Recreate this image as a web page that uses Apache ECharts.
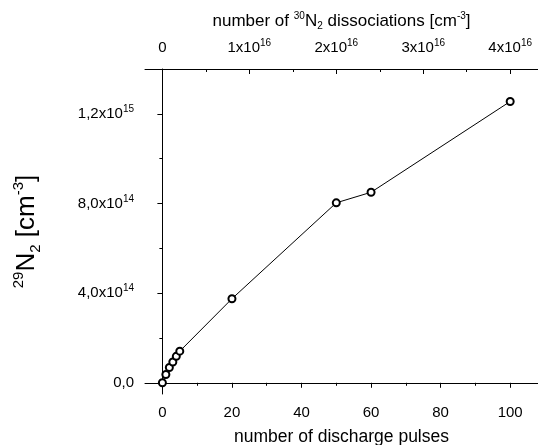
<!DOCTYPE html>
<html>
<head>
<meta charset="utf-8">
<script src="https://cdn.jsdelivr.net/npm/echarts@6/dist/echarts.min.js"></script>
<style>
  html, body { margin: 0; padding: 0; background: #fff; }
  #box { width: 538px; height: 445px; }
</style>
</head>
<body>
<div id="box"></div>
<script>
var myChart = echarts.init(document.getElementById('box'));

// number of discharge pulses
var pulses = [0, 1, 2, 3, 4, 5, 20, 50, 60, 100];
// 29N2 density [cm-3]
var n29 = [0, 3.7e13, 6.8e13, 9.3e13, 1.18e14, 1.41e14, 3.75e14, 8.03e14, 8.5e14, 1.255e15];

// tick values / labels
var xMajor = [0, 20, 40, 60, 80, 100];
var xMinor = [10, 30, 50, 70, 90];
var topMajor = [0, 1, 2, 3, 4];          // x10^16 dissociations
var topMinor = [0.5, 1.5, 2.5, 3.5];
var yMajor = [0, 4e14, 8e14, 1.2e15];
var yLabels = ['0,0', '4,0x10{sup|14}', '8,0x10{sup|14}', '1,2x10{sup|15}'];
var yMinor = [2e14, 6e14, 1e15];

var dissPerPulse = 0.04; // top axis (x10^16) per pulse
var xMin = -5, xMax = 108;
var yMin = -5e13, yMax = 1.4e15;

var font = 'Liberation Sans, Arial, sans-serif';
var supRich = {
    sup: { fontSize: 10, verticalAlign: 'top', lineHeight: 10, fontFamily: font, color: '#000' }
};
var gridBox = { left: 145, right: 0, top: 69, bottom: 51, outerBoundsMode: 'none', containLabel: false };

option = {
    animation: false,
    grid: [
        Object.assign({}, gridBox),
        Object.assign({}, gridBox)
    ],
    xAxis: [{
        type: 'value',
        gridIndex: 0,
        position: 'bottom',
        min: xMin,
        max: xMax,
        name: 'number of discharge pulses',
        nameLocation: 'middle',
        nameGap: 34,
        nameTextStyle: { fontSize: 17.5, fontFamily: font, color: '#000' },
        axisLine: { show: true, lineStyle: { color: '#000', width: 1 } },
        axisTick: { show: true, inside: false, length: 5, customValues: xMajor, lineStyle: { color: '#000' } },
        axisLabel: { customValues: xMajor, margin: 11, fontSize: 15, fontFamily: font, color: '#000' },
        splitLine: { show: false }
    }, {
        type: 'value',
        gridIndex: 0,
        position: 'top',
        min: xMin * dissPerPulse,
        max: xMax * dissPerPulse,
        name: 'number of {sup|30}N{sub|2} dissociations [cm{sup|-3}]',
        nameLocation: 'middle',
        nameGap: 38,
        nameTextStyle: {
            fontSize: 17, fontFamily: font, color: '#000', lineHeight: 20,
            rich: {
                sup: { fontSize: 10, verticalAlign: 'top', lineHeight: 10, fontFamily: font, color: '#000' },
                sub: { fontSize: 10, verticalAlign: 'bottom', lineHeight: 10, fontFamily: font, color: '#000' }
            }
        },
        axisLine: { show: true, lineStyle: { color: '#000', width: 1 } },
        axisTick: { show: true, inside: true, length: 5, customValues: topMajor, lineStyle: { color: '#000' } },
        axisLabel: {
            customValues: topMajor,
            margin: 12,
            fontSize: 15,
            fontFamily: font,
            color: '#000',
            lineHeight: 19,
            rich: supRich,
            formatter: function (v) {
                if (v === 0) return '0';
                return v + 'x10{sup|16}';
            }
        },
        splitLine: { show: false }
    }, {
        type: 'value',
        gridIndex: 1,
        position: 'bottom',
        min: xMin,
        max: xMax,
        axisLine: { show: false },
        axisTick: { show: true, inside: false, length: 3, customValues: xMinor, lineStyle: { color: '#000' } },
        axisLabel: { show: false },
        splitLine: { show: false }
    }, {
        type: 'value',
        gridIndex: 1,
        position: 'top',
        min: xMin * dissPerPulse,
        max: xMax * dissPerPulse,
        axisLine: { show: false },
        axisTick: { show: true, inside: true, length: 3, customValues: topMinor, lineStyle: { color: '#000' } },
        axisLabel: { show: false },
        splitLine: { show: false }
    }],
    yAxis: [{
        type: 'value',
        gridIndex: 0,
        position: 'left',
        min: yMin,
        max: yMax,
        name: '{sup|29}N{sub|2} [cm{sup|-3}]',
        nameLocation: 'middle',
        nameRotate: 90,
        nameGap: 102,
        nameTextStyle: {
            fontSize: 26, fontFamily: font, color: '#000', lineHeight: 32,
            rich: {
                sup: { fontSize: 15, verticalAlign: 'top', lineHeight: 15, fontFamily: font, color: '#000' },
                sub: { fontSize: 15, verticalAlign: 'bottom', lineHeight: 15, fontFamily: font, color: '#000' }
            }
        },
        axisLine: { show: true, lineStyle: { color: '#000', width: 1 } },
        axisTick: { show: true, inside: false, length: 5, customValues: yMajor, lineStyle: { color: '#000' } },
        axisLabel: {
            customValues: yMajor,
            margin: 11,
            fontSize: 15,
            fontFamily: font,
            color: '#000',
            lineHeight: 19,
            rich: supRich,
            formatter: function (v) {
                var i = yMajor.indexOf(v);
                return i >= 0 ? yLabels[i] : '';
            }
        },
        splitLine: { show: false }
    }, {
        type: 'value',
        gridIndex: 1,
        position: 'left',
        min: yMin,
        max: yMax,
        axisLine: { show: false },
        axisTick: { show: true, inside: false, length: 3, customValues: yMinor, lineStyle: { color: '#000' } },
        axisLabel: { show: false },
        splitLine: { show: false }
    }],
    series: [{
        type: 'line',
        xAxisIndex: 0,
        yAxisIndex: 0,
        data: pulses.map(function (p, i) { return [p, n29[i]]; }),
        symbol: 'circle',
        symbolSize: 7,
        lineStyle: { color: '#000', width: 1 },
        itemStyle: { color: '#fff', borderColor: '#000', borderWidth: 2 }
    }]
};

myChart.setOption(option);
</script>
</body>
</html>
